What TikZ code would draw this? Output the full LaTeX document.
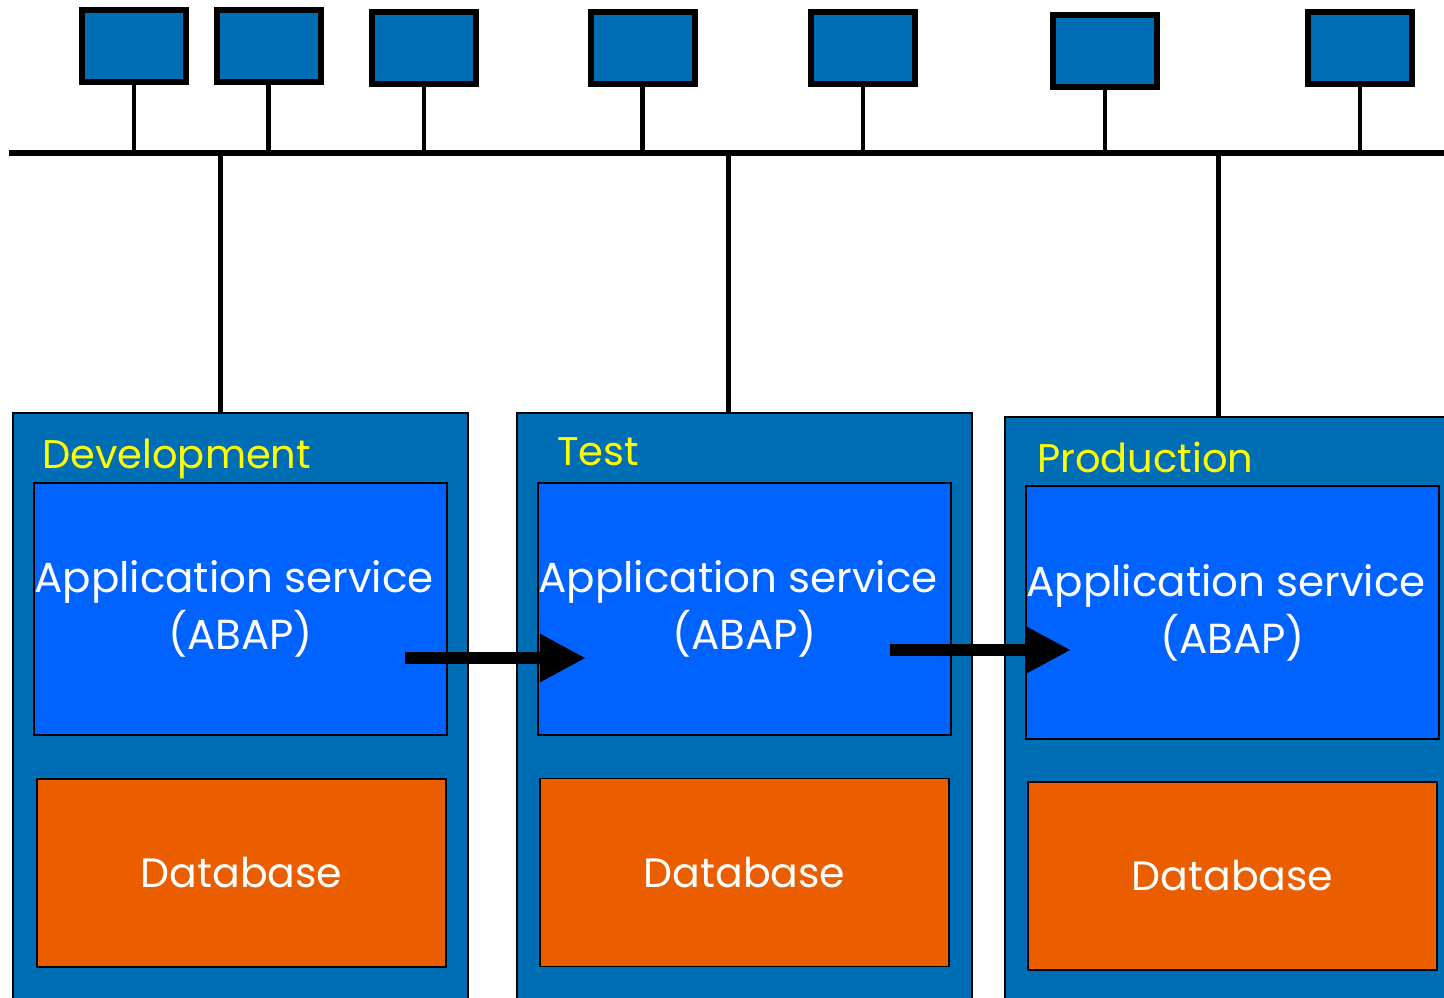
\documentclass[tikz,border=0pt]{standalone}
\usepackage{fontspec}
\setmainfont{Poppins}
\usetikzlibrary{arrows.meta}
\definecolor{envblue}{RGB}{0,110,180}
\definecolor{appblue}{RGB}{0,98,255}
\definecolor{dborange}{RGB}{235,94,0}
\definecolor{labelyellow}{RGB}{255,255,0}
\newcommand{\apptext}{Application service\hspace*{13pt}\\(ABAP)}
\tikzset{
  pc/.style={draw=black, line width=6pt, fill=envblue, minimum width=104pt, minimum height=72pt, inner sep=0pt},
  stem/.style={draw=black, line width=4.5pt},
  bus/.style={draw=black, line width=6pt},
  tap/.style={draw=black, line width=5pt},
  envbox/.style={draw=black, line width=1.5pt, fill=envblue, minimum width=455pt, minimum height=600pt, inner sep=0pt},
  appbox/.style={draw=black, line width=1.5pt, fill=appblue, minimum width=413pt, minimum height=252pt, inner sep=0pt, align=center, text=white, font=\fontsize{42}{57}\selectfont},
  dbbox/.style={draw=black, line width=1.5pt, fill=dborange, minimum width=409pt, minimum height=188pt, inner sep=0pt, text=white, font=\fontsize{41}{48}\selectfont},
  envlabel/.style={anchor=base west, inner sep=0pt, text=labelyellow, font=\fontsize{40}{48}\selectfont},
  promote/.style={draw=black, line width=12pt, -{Triangle[length=46pt, width=45pt]}}
}
\begin{document}
\begin{tikzpicture}[x=1pt, y=-1pt]
\useasboundingbox (0,0) rectangle (1444,997);
\clip (0,0) rectangle (1444,997);

% workstations on the network
\node[pc] (pc1) at (134,46) {};
\node[pc] (pc2) at (268.5,46) {};
\node[pc] (pc3) at (424,48) {};
\node[pc] (pc4) at (642.5,48) {};
\node[pc] (pc5) at (863,47.5) {};
\node[pc] (pc6) at (1105,50.5) {};
\node[pc] (pc7) at (1360,47.5) {};

% network bus
\coordinate (busL) at (9,153);
\coordinate (busR) at (1450,153);
\draw[bus] (busL) -- (busR);
\foreach \p in {pc1,pc2,pc3,pc4,pc5,pc6,pc7}
  \draw[stem] (\p.south) -- (\p.south |- busL);

% system landscape
\node[envbox] (dev)  at (240.5,713) {};
\node[envbox] (test) at (744.5,713) {};
\node[envbox] (prod) at (1232.5,717) {};

\coordinate (tapD) at (220,153);
\coordinate (tapT) at (728,153);
\coordinate (tapP) at (1218,153);
\draw[tap] (tapD) -- (tapD |- dev.north);
\draw[tap] (tapT) -- (tapT |- test.north);
\draw[tap] (tapP) -- (tapP |- prod.north);

\node[envlabel] (devlbl)  at (42,468)   {Development};
\node[envlabel] (testlbl) at (557,465)  {Test};
\node[envlabel] (prodlbl) at (1037,472) {Production};

\node[appbox] (appD) at (240.5,609)  {\apptext};
\node[appbox] (appT) at (744.5,609)  {\apptext};
\node[appbox, minimum height=253pt] (appP) at (1232.5,612.5) {\apptext};

\node[dbbox] (dbD) at (241.5,873)  {Database};
\node[dbbox] (dbT) at (744.5,872.5) {Database};
\node[dbbox] (dbP) at (1232.5,876)  {Database};

% transport route
\coordinate (fromD) at (405,658);
\coordinate (toT)   at (586,658);
\coordinate (fromT) at (890,650);
\coordinate (toP)   at (1071,650);
\draw[promote] (fromD) -- (toT);
\draw[promote] (fromT) -- (toP);
\end{tikzpicture}
\end{document}
